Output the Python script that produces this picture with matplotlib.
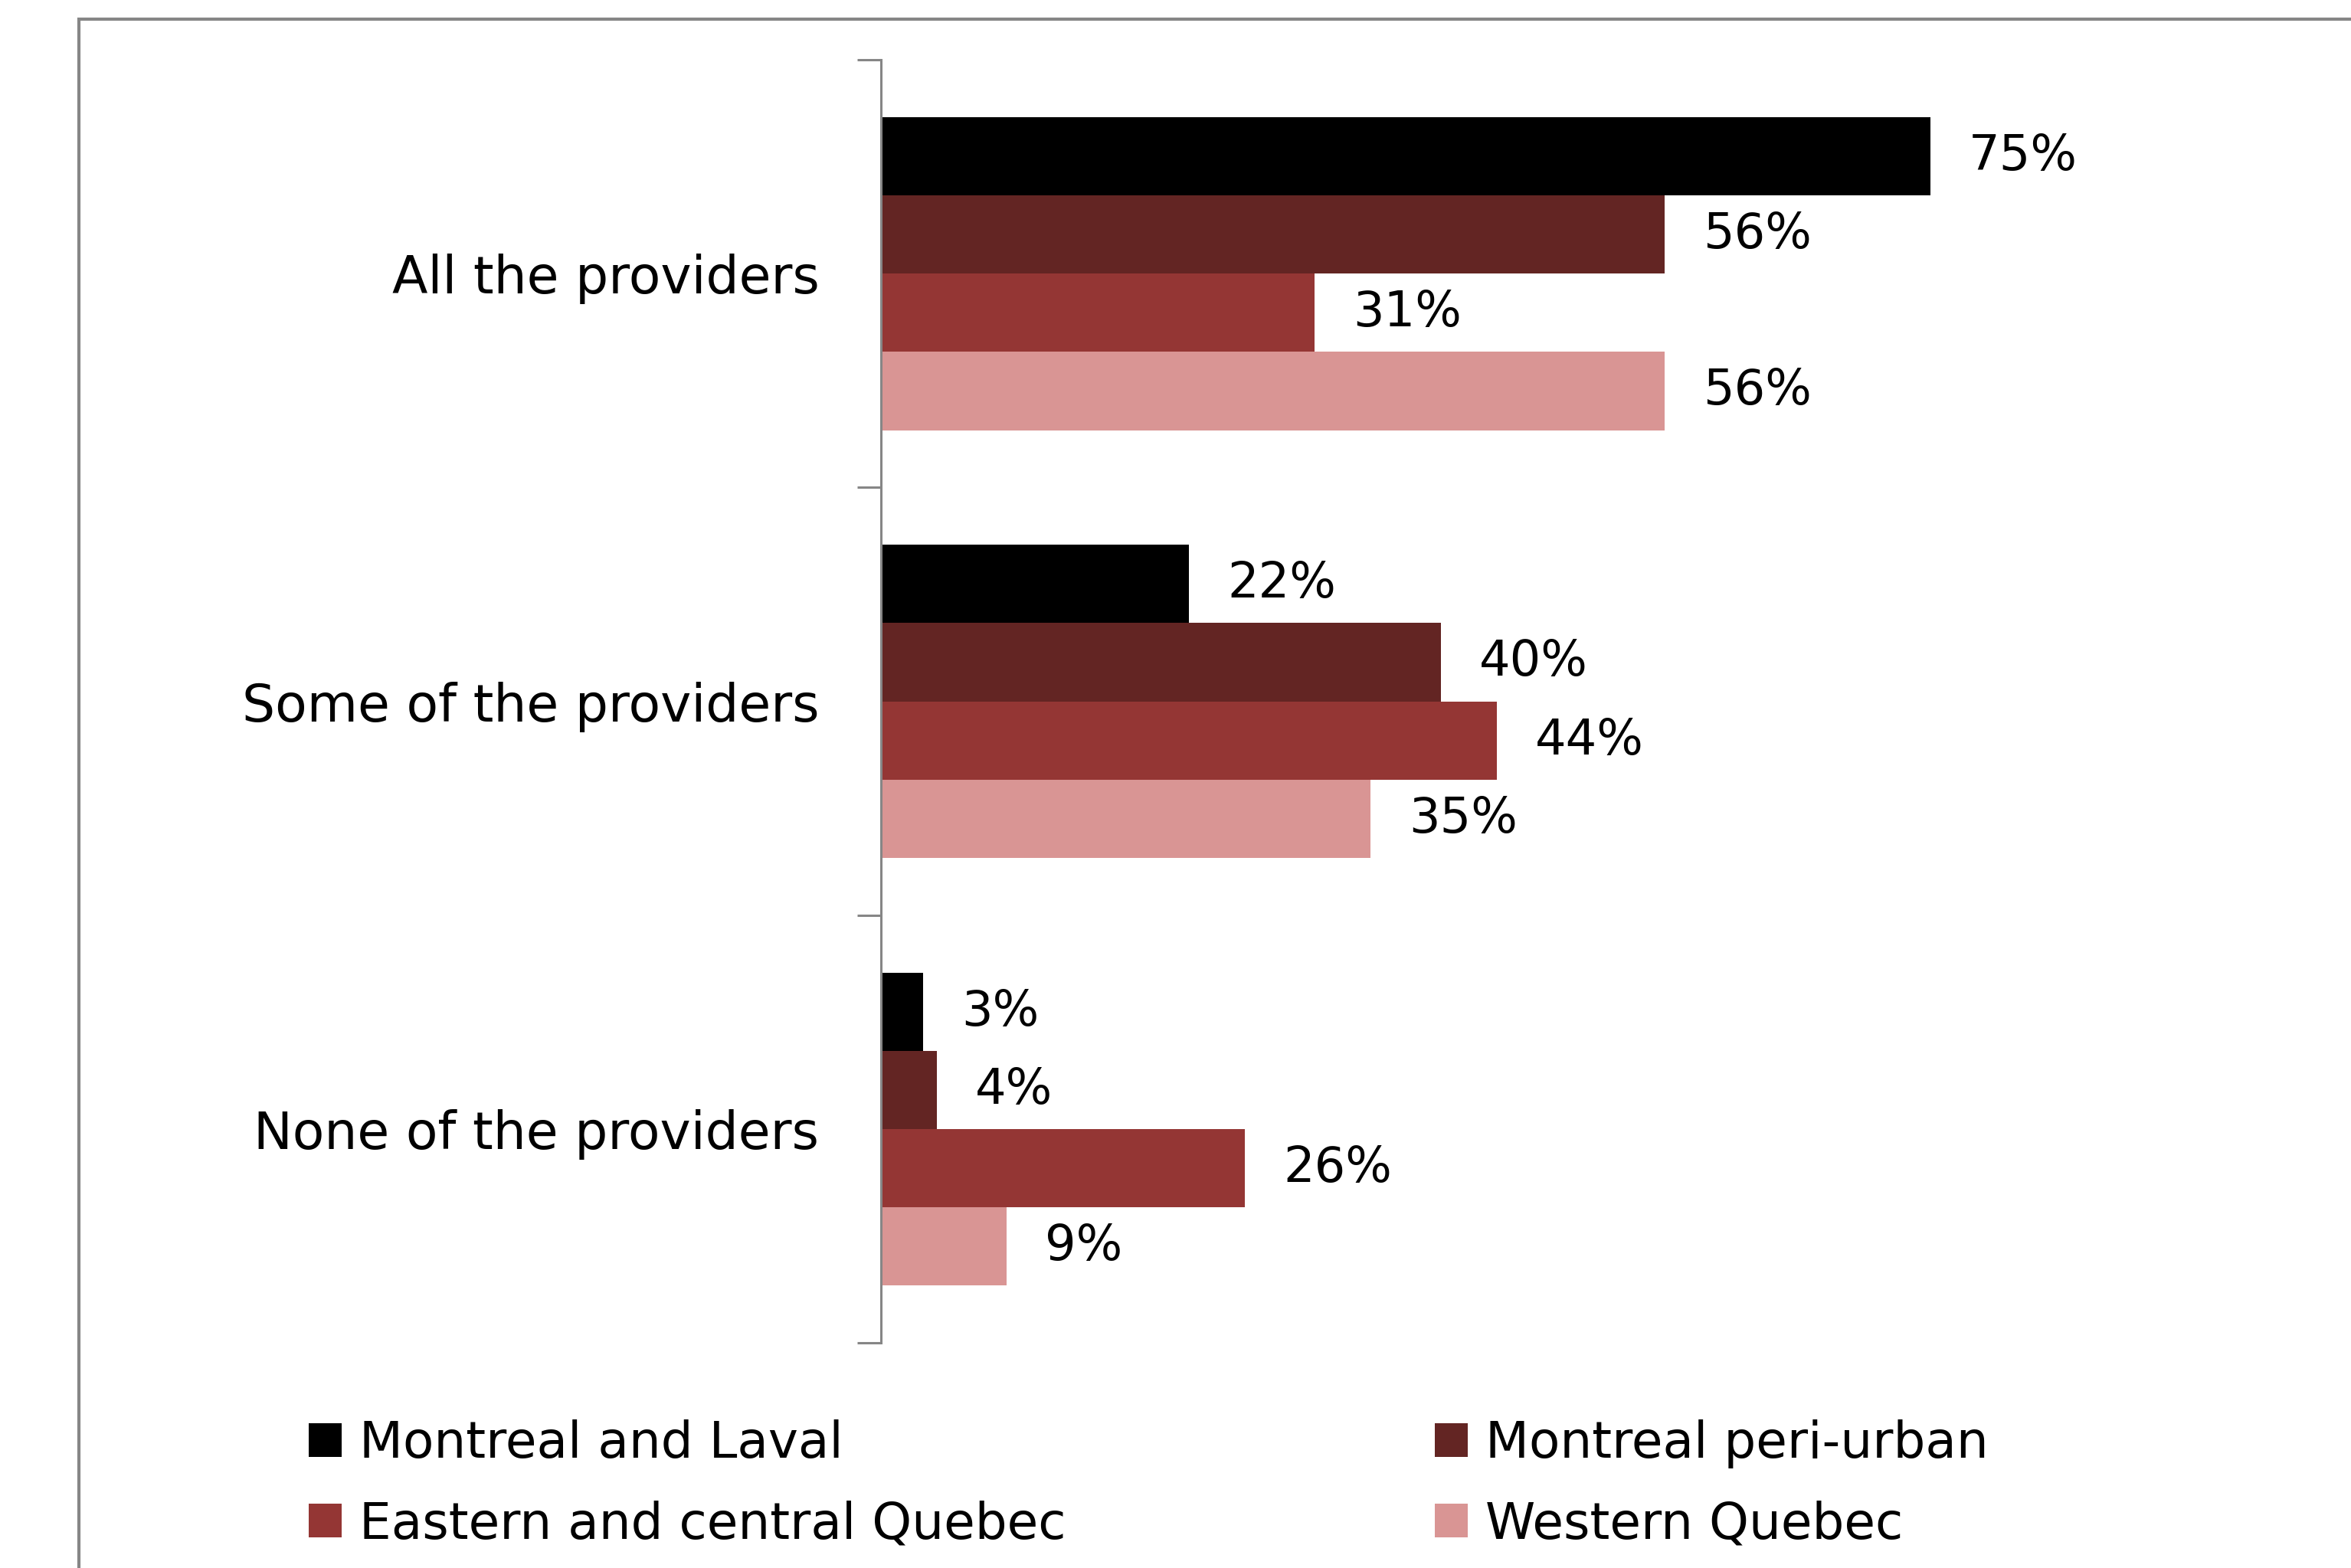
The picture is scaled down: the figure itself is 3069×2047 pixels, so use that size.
import numpy as np
import matplotlib
matplotlib.use("Agg")
import matplotlib.pyplot as plt
from matplotlib.patches import Patch, Rectangle

categories = ["All the providers", "Some of the providers", "None of the providers"]
regions = ["Montreal and Laval", "Montreal peri-urban",
           "Eastern and central Quebec", "Western Quebec"]
montreal_laval = [75, 22, 3]
montreal_periurban = [56, 40, 4]
eastern_central = [31, 44, 26]
western = [56, 35, 9]
colors = ["#000000", "#632523", "#943634", "#D99594"]

series = [montreal_laval, montreal_periurban, eastern_central, western]

plt.rcParams["font.family"] = ["DejaVu Sans"]
fs = 46

fig = plt.figure(figsize=(30.69, 20.47), dpi=100)
ax = fig.add_axes([0.3747, 0.1436, 0.5953, 0.8183])

y = np.arange(len(categories))
h = 0.183
for k, (vals, col) in enumerate(zip(series, colors)):
    pos = y + (k - 1.5) * h
    bars = ax.barh(pos, vals, height=h, color=col, label=regions[k])
    for b, v in zip(bars, vals):
        ax.annotate(f"{v}%", (b.get_width(), b.get_y() + b.get_height() / 2),
                    xytext=(36, 0), textcoords="offset points",
                    ha="left", va="center", fontsize=fs, color="black")

ax.set_xlim(0, 100)
ax.set_ylim(2.5, -0.5)
ax.set_yticks(y)
ax.set_yticklabels(categories, fontsize=49)
ax.set_yticks(np.arange(-0.5, 3.0, 1.0), minor=True)
ax.tick_params(axis="y", which="major", length=0, pad=58)
ax.tick_params(axis="y", which="minor", length=22, width=2.2, color="#868686")
ax.set_xticks([])
for s in ["top", "right", "bottom"]:
    ax.spines[s].set_visible(False)
ax.spines["left"].set_color("#868686")
ax.spines["left"].set_linewidth(2.2)

# chart area border (runs off the right and bottom edges)
fig.patches.append(Rectangle((0.0336, -0.1), 2.0, 1.0878, transform=fig.transFigure,
                             fill=False, edgecolor="#868686", linewidth=3))

handles = [Patch(facecolor=c, edgecolor="none") for c in colors]
order = [0, 2, 1, 3]
fig.legend([handles[i] for i in order], [regions[i] for i in order],
           ncol=2, loc="upper left", bbox_to_anchor=(0.1205, 0.111),
           frameon=False, fontsize=47.5, handlelength=0.65, handleheight=0.65,
           handletextpad=0.35, columnspacing=7.3, labelspacing=0.63, borderpad=0)

fig.savefig("out.png", dpi=100)
